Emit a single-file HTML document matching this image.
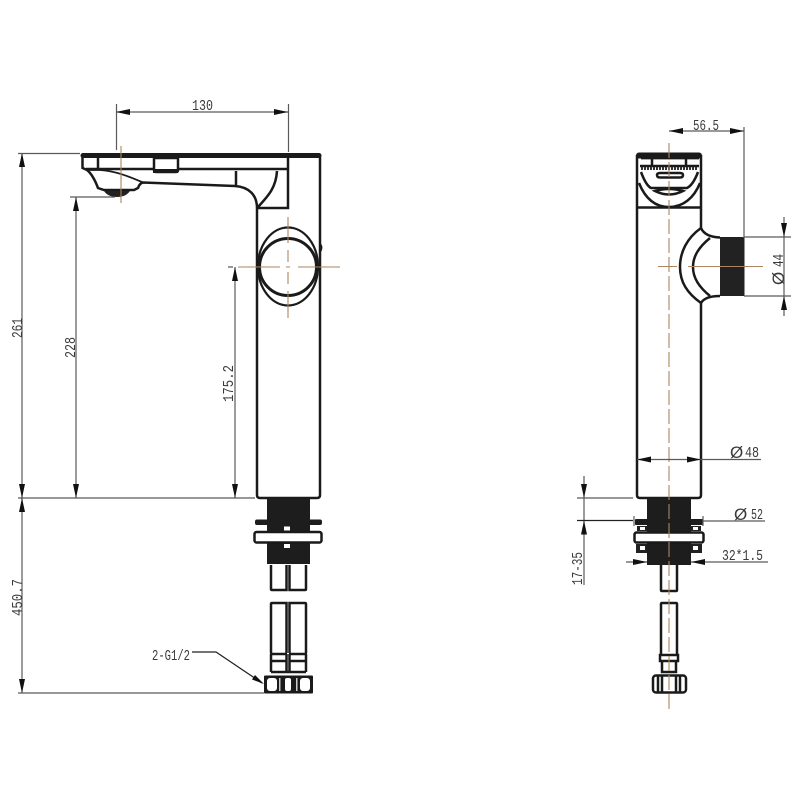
<!DOCTYPE html>
<html><head><meta charset="utf-8"><style>html,body{margin:0;padding:0;background:#fff}svg{display:block}
text{font-family:"Liberation Mono",monospace;font-size:15px;fill:#3a3a3a}
.o{fill:none;stroke:#1a1a1a;stroke-width:2.5}
.t{fill:none;stroke:#1a1a1a;stroke-width:1.8}
.d{fill:none;stroke:#5a5a5a;stroke-width:1.2}
.c{fill:none;stroke:#a9865f;stroke-width:1.1}
.a{fill:#111}
.p{font-family:"Liberation Sans",sans-serif;font-size:17px}
</style></head><body>
<svg width="800" height="800" viewBox="0 0 800 800" xmlns="http://www.w3.org/2000/svg">
<!-- LEFT VIEW -->
<path d="M83 155.500H319" stroke="#1a1a1a" stroke-width="5" fill="none" stroke-linecap="round"/>
<path class="o" d="M82.500 155V168L87 170C92 174 95 180 98 188L104 190H134L138 188C139 185 141 183 143 182.500L235 186C249 187 257 195 257 208V495"/>
<path class="o" d="M320 155V495Q320 498 317 498H260Q257 498 257 495"/>
<path class="o" d="M86 169H288M98 158V168M288 157V208H257M236 171V186"/>
<path class="t" d="M87 170H100C115 171 128 176 143 182.500"/>
<path class="o" d="M277 171C276 188 268 196 258 207"/>
<path d="M154 158H178V170Q178 172 176 172H156Q154 172 154 170Z" fill="#fff" stroke="#1a1a1a" stroke-width="2.500"/>
<rect x="153" y="169" width="25" height="4" fill="#1a1a1a"/>
<path d="M104 191H130Q126 197 117 197Q108 197 104 191Z" fill="#222"/>
<circle cx="288" cy="267" r="28.500" fill="none" stroke="#1a1a1a" stroke-width="3"/>
<ellipse cx="288" cy="266.500" rx="30" ry="39" fill="none" stroke="#1a1a1a" stroke-width="2.200"/>
<path class="t" d="M320 244Q323 247 320 252"/>
<!-- left bottom -->
<rect x="267" y="498" width="43" height="66" fill="#1d1d1d"/>
<rect x="255" y="519.500" width="67" height="5.500" rx="2" fill="#1d1d1d"/>
<rect x="254.500" y="532" width="67" height="10.500" rx="2" fill="#fff" stroke="#1a1a1a" stroke-width="2.500"/>
<rect x="284" y="526.500" width="6" height="4" fill="#fff"/>
<rect x="284" y="544" width="6" height="4" fill="#fff"/>
<path class="o" d="M271 565V589Q271 590 272 590H286.500V565M289.500 565V590H305Q306 590 306 589V565"/>
<path class="o" d="M271 653V604Q271 603 272 603H286.500V653M289.500 653V603H305Q306 603 306 604V653"/>
<path class="o" d="M270 654H287M289 654H307M270 661H287M289 661H307M271 654V672M286.500 654V672M289.500 654V672M306 654V672M271 672H306"/>
<rect x="264" y="675.500" width="49" height="18" rx="1" fill="#1a1a1a"/>
<rect x="267" y="678" width="10" height="13" rx="3" fill="#fff"/>
<rect x="279" y="678" width="1.500" height="13" fill="#ccc"/>
<rect x="285" y="678" width="6" height="13" rx="2" fill="#fff"/>
<rect x="296" y="678" width="1.500" height="13" fill="#ccc"/>
<rect x="300" y="678" width="10" height="13" rx="3" fill="#fff"/>
<!-- left centerlines -->
<path class="c" d="M121 146V203"/>
<path class="c" d="M238 267H280M286 267H290M298 267H340"/>
<path class="c" d="M288 217V243M288 250V262M288 272V284M288 291V318"/>
<!-- left dims -->
<path class="d" d="M116.500 104V150M288.500 104V152M116 112H288"/>
<path class="a" d="M116 112l14-3v6zM288 112l-14-3v6z"/>
<path class="d" d="M18 153.500H80M18 498H255M22 153V693M18 693H264"/>
<path class="a" d="M22 153l-3 14h6zM22 498l-3-14h6zM22 498l-3 14h6zM22 693l-3-14h6z"/>
<path class="d" d="M70 197H115M76 197V498"/>
<path class="a" d="M76 197l-3 14h6zM76 498l-3-14h6z"/>
<path class="d" d="M228 267H233M235 267V498"/>
<path class="a" d="M235 267l-3 14h6zM235 498l-3-14h6z"/>
<text x="192" y="110" textLength="21" lengthAdjust="spacingAndGlyphs">130</text>
<text transform="translate(22,338) rotate(-90)" textLength="20" lengthAdjust="spacingAndGlyphs">261</text>
<text transform="translate(75,358) rotate(-90)" textLength="21" lengthAdjust="spacingAndGlyphs">228</text>
<text transform="translate(233,402) rotate(-90)" textLength="37" lengthAdjust="spacingAndGlyphs">175.2</text>
<text transform="translate(22,616) rotate(-90)" textLength="37" lengthAdjust="spacingAndGlyphs">450.7</text>
<text x="152" y="660" textLength="38" lengthAdjust="spacingAndGlyphs">2-G1/2</text>
<path d="M192 652H216L262 683" fill="none" stroke="#222" stroke-width="1.200"/>
<path class="a" d="M264 684l-12-4.500 3-4.500z"/>
<!-- RIGHT VIEW -->
<path d="M639 155.500H699" stroke="#1a1a1a" stroke-width="6" stroke-linecap="round" fill="none"/>
<path class="o" d="M637 155V495Q637 498 640 498H698Q701 498 701 495V303Q705 296 720 296M701 155V228Q705 237 720 237.500"/>
<path class="o" d="M637 207.500H701"/>
<path class="o" d="M652 158V166M686 158V166M640 166H699"/>
<path class="t" d="M641 158.500H699"/>
<path d="M641 168.500H698" stroke="#333" stroke-width="3" stroke-dasharray="2 1" fill="none"/>
<path class="o" d="M639 183C645 198 655 207 669 207C683 207 694 198 700 183"/>
<path class="o" d="M641 172C644 180 647 186 651 188H687C691 186 695 180 698 172"/>
<path class="o" d="M657 175Q657 173 660 173H680Q683 173 683 175Q683 177.500 680 177.500H660Q657 177.500 657 175Z"/>
<path d="M655 191Q669 187 683 191Q669 198 655 191Z" fill="#fff" stroke="#1a1a1a" stroke-width="2.500"/>
<path class="o" d="M701 228C687 238 680 252 680 267C680 282 687 293 701 303"/>
<path class="o" d="M710 238C699 247 693 256 693 267C693 278 699 287 710 296"/>
<rect x="720" y="237" width="24.500" height="59" fill="#222"/>
<!-- right bottom -->
<rect x="647" y="498" width="44" height="67" fill="#1d1d1d"/>
<rect x="635" y="519" width="68" height="6" rx="1" fill="#1d1d1d"/>
<rect x="634.500" y="532.500" width="69" height="10" rx="2" fill="#fff" stroke="#1a1a1a" stroke-width="2.500"/>
<path d="M637 526H647V531H637ZM691 526H701V531H691ZM636 544H647V553H636ZM691 544H702V553H691Z" fill="#222"/>
<path d="M640 527H645V530H640ZM693 527H698V530H693ZM640 546H645V550H640ZM693 546H698V550H693Z" fill="#fff"/>
<path class="o" d="M661 565V590Q661 591 662 591H676Q677 591 677 590V565"/>
<path class="o" d="M661 655V604Q661 603 662 603H676Q677 603 677 604V655M660 655H678V661H660ZM662 661V672H676V661"/>
<rect x="653" y="675.500" width="33" height="17" rx="3" fill="#fff" stroke="#1a1a1a" stroke-width="2.500"/>
<path class="o" d="M658 676V692M662 676V692M676 676V692M680 676V692"/>
<!-- right centerlines -->
<path class="c" d="M669 143V710" stroke-dasharray="15 4"/>
<path class="c" d="M658 266.500H677M688 266.500H763"/>
<!-- right dims -->
<path class="d" d="M744 127V238M669 131H744M744 237H791M744 296H791M784 217V316"/>
<path class="a" d="M669 131l14-3v6zM744 131l-14-3v6zM784 237l-3-14h6zM784 296l-3 14h6z"/>
<path class="d" d="M637 459.500H761"/>
<path class="a" d="M637 459.500l14-3v6zM701 459.500l-14-3v6z"/>
<path class="d" d="M577 498H633M584 476V585M703 521H765M634 516V526M703 516V526M626 562H647M691 562H768"/>
<path d="M577 520.500H633" stroke="#222" stroke-width="1.200" fill="none"/>
<path class="a" d="M584 498l-3-14h6zM584 520.500l-3 14h6zM647 562l-14-3v6zM691 562l14-3v6z"/>
<text x="693" y="130" textLength="26" lengthAdjust="spacingAndGlyphs">56.5</text>
<text transform="translate(783,267) rotate(-90)" textLength="13" lengthAdjust="spacingAndGlyphs">44</text>
<text class="p" transform="translate(784,285) rotate(-90)">Ø</text>
<text class="p" x="730" y="458">Ø</text>
<text x="745" y="457" textLength="14" lengthAdjust="spacingAndGlyphs">48</text>
<text class="p" x="734" y="520">Ø</text>
<text x="751" y="519" textLength="12" lengthAdjust="spacingAndGlyphs">52</text>
<text x="722" y="560" textLength="41" lengthAdjust="spacingAndGlyphs">32*1.5</text>
<text transform="translate(582,585) rotate(-90)" textLength="33" lengthAdjust="spacingAndGlyphs">17-35</text>
</svg>
</body></html>
